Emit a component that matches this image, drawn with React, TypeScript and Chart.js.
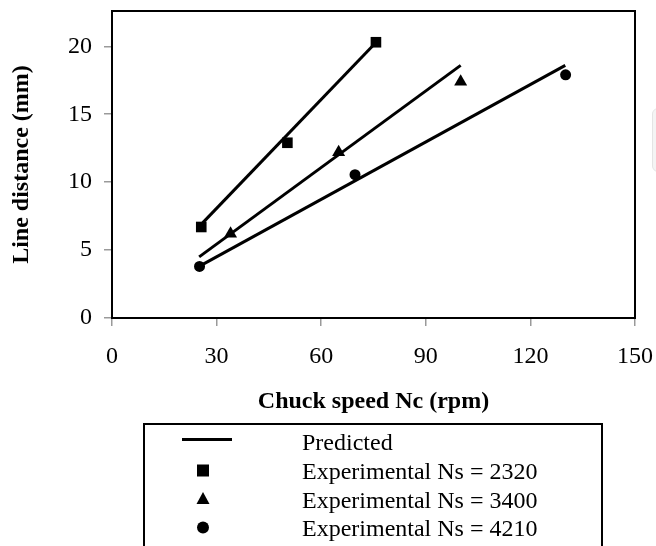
import React, { useEffect, useRef } from 'react';
import { Chart, registerables } from 'chart.js';

Chart.register(...registerables);

// ---- data ----
const xTickValues = [0, 30, 60, 90, 120, 150];
const yTickValues = [0, 5, 10, 15, 20];
const legendLabels = [
  'Predicted',
  'Experimental Ns = 2320',
  'Experimental Ns = 3400',
  'Experimental Ns = 4210',
];

const predicted2320X = [26, 75];
const predicted2320Y = [7.0, 20.1];
const predicted3400X = [25, 100];
const predicted3400Y = [4.5, 18.6];
const predicted4210X = [25, 130];
const predicted4210Y = [3.8, 18.6];

const exp2320X = [25.6, 50.3, 75.7];
const exp2320Y = [6.7, 12.9, 20.3];
const exp3400X = [34, 65, 100];
const exp3400Y = [6.2, 12.2, 17.4];
const exp4210X = [25.1, 69.7, 130.1];
const exp4210Y = [3.8, 10.55, 17.9];

const xTitle = 'Chuck speed Nc (rpm)';
const yTitle = 'Line distance (mm)';

const pts = (xs: number[], ys: number[]) => xs.map((x, i) => ({ x, y: ys[i] }));

const FONT = "'Liberation Serif', 'Times New Roman', serif";

const framePlugin = {
  id: 'frame',
  afterDraw(chart: any) {
    const { ctx, chartArea } = chart;
    ctx.save();
    ctx.strokeStyle = '#000';
    ctx.lineWidth = 2;
    ctx.strokeRect(chartArea.left, chartArea.top, chartArea.right - chartArea.left, chartArea.bottom - chartArea.top);
    ctx.restore();
  },
};

const boxLegendPlugin = {
  id: 'boxLegend',
  afterDraw(chart: any) {
    const ctx = chart.ctx;
    ctx.save();
    ctx.strokeStyle = '#000';
    ctx.fillStyle = '#000';
    ctx.lineWidth = 2;
    ctx.strokeRect(144, 424, 458, 150);
    const rows = [450, 479, 507.5, 536];
    const mid = rows.map((r) => r - 8.5);
    ctx.font = `24px ${FONT}`;
    ctx.textAlign = 'left';
    ctx.textBaseline = 'alphabetic';
    legendLabels.forEach((t, i) => ctx.fillText(t, 302, rows[i]));
    // line symbol
    ctx.lineWidth = 3;
    ctx.beginPath();
    ctx.moveTo(182, mid[0] - 2);
    ctx.lineTo(232, mid[0] - 2);
    ctx.stroke();
    // square
    ctx.fillRect(203 - 6, mid[1] - 6, 12, 12);
    // triangle
    ctx.beginPath();
    ctx.moveTo(203, mid[2] - 7);
    ctx.lineTo(203 + 6.5, mid[2] + 5);
    ctx.lineTo(203 - 6.5, mid[2] + 5);
    ctx.closePath();
    ctx.fill();
    // circle
    ctx.beginPath();
    ctx.arc(203, mid[3], 6, 0, Math.PI * 2);
    ctx.fill();
    ctx.restore();
  },
};

export default function App() {
  const ref = useRef<HTMLCanvasElement | null>(null);

  useEffect(() => {
    if (!ref.current) return;
    const lineDs = (label: string, data: any[]) => ({
      label,
      data,
      showLine: true,
      borderColor: '#000',
      backgroundColor: '#000',
      borderWidth: 3,
      pointRadius: 0,
      order: 2,
    });
    const markDs = (label: string, data: any[], style: string, r: number) => ({
      label,
      data,
      showLine: false,
      pointStyle: style,
      pointRadius: r,
      pointBackgroundColor: '#000',
      pointBorderColor: '#000',
      pointBorderWidth: 0,
      order: 1,
    });

    const chart = new Chart(ref.current, {
      type: 'scatter',
      data: {
        datasets: [
          markDs(legendLabels[1], pts(exp2320X, exp2320Y), 'rect', 7.5),
          markDs(legendLabels[2], pts(exp3400X, exp3400Y), 'triangle', 7.5),
          markDs(legendLabels[3], pts(exp4210X, exp4210Y), 'circle', 5.5),
          lineDs(legendLabels[0], pts(predicted2320X, predicted2320Y)),
          lineDs(legendLabels[0], pts(predicted3400X, predicted3400Y)),
          lineDs(legendLabels[0], pts(predicted4210X, predicted4210Y)),
        ] as any,
      },
      options: {
        animation: false,
        responsive: true,
        maintainAspectRatio: false,
        layout: { padding: { top: 11, left: 0, right: 21, bottom: 130 } },
        plugins: { legend: { display: false }, tooltip: { enabled: false } },
        scales: {
          x: {
            type: 'linear',
            min: 0,
            max: 150,
            afterBuildTicks: (s: any) => {
              s.ticks = xTickValues.map((v) => ({ value: v }));
            },
            afterFit: (s: any) => {
              s.height = 98;
              s.paddingLeft = 0;
              s.paddingRight = 0;
              s.paddingTop = 0;
              s.paddingBottom = 0;
            },
            ticks: { color: '#000', padding: 16, font: { family: FONT, size: 24 } },
            grid: { drawOnChartArea: false, drawTicks: true, tickLength: 8, color: '#9a9a9a', lineWidth: 1.5 },
            border: { display: false },
            title: { display: true, text: xTitle, color: '#000', padding: 0, font: { family: FONT, size: 24, weight: 'bold' } },
          },
          y: {
            type: 'linear',
            min: 0,
            max: 22.6,
            afterBuildTicks: (s: any) => {
              s.ticks = yTickValues.map((v) => ({ value: v }));
            },
            afterFit: (s: any) => {
              s.width = 112;
              s.paddingLeft = 0;
              s.paddingRight = 0;
              s.paddingTop = 0;
              s.paddingBottom = 0;
            },
            ticks: { color: '#000', padding: 12, font: { family: FONT, size: 24 } },
            grid: { drawOnChartArea: false, drawTicks: true, tickLength: 8, color: '#9a9a9a', lineWidth: 1.5 },
            border: { display: false },
            title: { display: true, text: yTitle, color: '#000', padding: { top: 7.5, bottom: 0 }, font: { family: FONT, size: 24, weight: 'bold' } },
          },
        },
      } as any,
      plugins: [framePlugin, boxLegendPlugin],
    });
    return () => chart.destroy();
  }, []);

  return (
    <div style={{ position: 'absolute', left: 0, top: 0, width: 656, height: 546, overflow: 'hidden', background: '#fff' }}>
      <canvas ref={ref} />
      <div
        style={{
          position: 'absolute',
          left: 652,
          top: 108,
          width: 10,
          height: 62,
          background: '#f4f4f4',
          border: '1px solid #e4e4e4',
          borderRadius: 6,
        }}
      />
    </div>
  );
}
